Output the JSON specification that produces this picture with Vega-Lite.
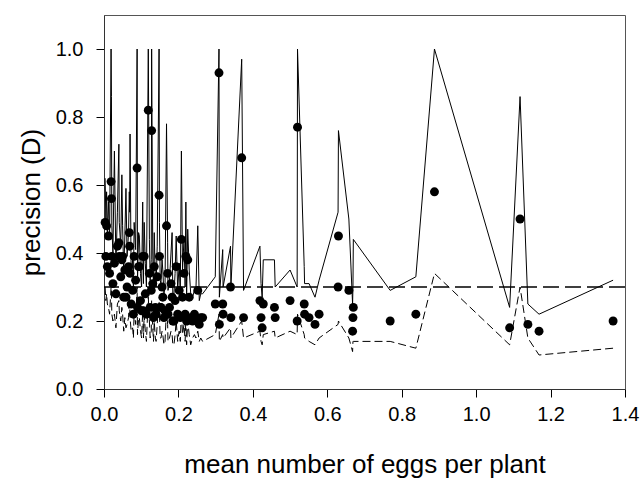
{
  "$schema": "https://vega.github.io/schema/vega-lite/v6.json",
  "width": 521,
  "height": 374,
  "autosize": "none",
  "padding": {"left": 104, "top": 15, "right": 17, "bottom": 89},
  "background": "white",
  "config": {
    "font": "Liberation Sans",
    "view": {"stroke": "#555", "strokeWidth": 1},
    "axis": {
      "grid": false,
      "domainColor": "#333",
      "tickColor": "black",
      "labelColor": "black",
      "titleColor": "black",
      "labelFont": "Liberation Sans",
      "titleFont": "Liberation Sans",
      "labelFontSize": 20,
      "titleFontSize": 26,
      "titleFontWeight": "normal"
    }
  },
  "data": {
    "values": [
      {"x": 0.003, "d": 0.49, "hi": 0.62, "lo": 0.30},
      {"x": 0.005, "d": 0.39, "hi": 0.50, "lo": 0.26},
      {"x": 0.007, "d": 0.48, "hi": 0.58, "lo": 0.28},
      {"x": 0.009, "d": 0.36, "hi": 0.46, "lo": 0.25},
      {"x": 0.012, "d": 0.45, "hi": 0.55, "lo": 0.24},
      {"x": 0.015, "d": 0.34, "hi": 0.44, "lo": 0.22},
      {"x": 0.019, "d": 0.61, "hi": 1.00, "lo": 0.30},
      {"x": 0.020, "d": 0.56, "hi": 0.86, "lo": 0.29},
      {"x": 0.021, "d": 0.39, "hi": 0.48, "lo": 0.22},
      {"x": 0.024, "d": 0.31, "hi": 0.40, "lo": 0.20},
      {"x": 0.028, "d": 0.37, "hi": 0.70, "lo": 0.22},
      {"x": 0.032, "d": 0.28, "hi": 0.36, "lo": 0.18},
      {"x": 0.036, "d": 0.42, "hi": 0.52, "lo": 0.25},
      {"x": 0.040, "d": 0.43, "hi": 0.72, "lo": 0.26},
      {"x": 0.041, "d": 0.39, "hi": 0.49, "lo": 0.23},
      {"x": 0.045, "d": 0.33, "hi": 0.42, "lo": 0.20},
      {"x": 0.048, "d": 0.38, "hi": 0.63, "lo": 0.24},
      {"x": 0.050, "d": 0.39, "hi": 0.48, "lo": 0.22},
      {"x": 0.053, "d": 0.27, "hi": 0.34, "lo": 0.17},
      {"x": 0.056, "d": 0.35, "hi": 0.45, "lo": 0.21},
      {"x": 0.059, "d": 0.27, "hi": 0.59, "lo": 0.18},
      {"x": 0.062, "d": 0.30, "hi": 0.39, "lo": 0.19},
      {"x": 0.066, "d": 0.36, "hi": 0.46, "lo": 0.21},
      {"x": 0.068, "d": 0.46, "hi": 0.58, "lo": 0.27},
      {"x": 0.069, "d": 0.42, "hi": 0.52, "lo": 0.25},
      {"x": 0.070, "d": 0.34, "hi": 0.75, "lo": 0.21},
      {"x": 0.073, "d": 0.25, "hi": 0.33, "lo": 0.17},
      {"x": 0.077, "d": 0.29, "hi": 0.38, "lo": 0.18},
      {"x": 0.079, "d": 0.22, "hi": 0.30, "lo": 0.15},
      {"x": 0.081, "d": 0.39, "hi": 0.49, "lo": 0.23},
      {"x": 0.085, "d": 0.32, "hi": 0.41, "lo": 0.19},
      {"x": 0.089, "d": 0.65, "hi": 1.00, "lo": 0.30},
      {"x": 0.090, "d": 0.24, "hi": 0.31, "lo": 0.16},
      {"x": 0.093, "d": 0.36, "hi": 0.46, "lo": 0.21},
      {"x": 0.095, "d": 0.36, "hi": 0.45, "lo": 0.21},
      {"x": 0.098, "d": 0.26, "hi": 0.34, "lo": 0.17},
      {"x": 0.101, "d": 0.23, "hi": 0.30, "lo": 0.15},
      {"x": 0.104, "d": 0.39, "hi": 0.55, "lo": 0.23},
      {"x": 0.106, "d": 0.23, "hi": 0.31, "lo": 0.15},
      {"x": 0.108, "d": 0.39, "hi": 0.49, "lo": 0.22},
      {"x": 0.111, "d": 0.28, "hi": 0.37, "lo": 0.17},
      {"x": 0.114, "d": 0.22, "hi": 0.30, "lo": 0.14},
      {"x": 0.119, "d": 0.82, "hi": 1.00, "lo": 0.27},
      {"x": 0.122, "d": 0.34, "hi": 0.44, "lo": 0.20},
      {"x": 0.124, "d": 0.24, "hi": 0.32, "lo": 0.15},
      {"x": 0.127, "d": 0.29, "hi": 0.38, "lo": 0.17},
      {"x": 0.128, "d": 0.76, "hi": 1.00, "lo": 0.26},
      {"x": 0.131, "d": 0.31, "hi": 0.40, "lo": 0.18},
      {"x": 0.133, "d": 0.21, "hi": 0.29, "lo": 0.14},
      {"x": 0.135, "d": 0.36, "hi": 0.46, "lo": 0.20},
      {"x": 0.138, "d": 0.24, "hi": 0.32, "lo": 0.15},
      {"x": 0.140, "d": 0.22, "hi": 0.30, "lo": 0.14},
      {"x": 0.143, "d": 0.33, "hi": 0.42, "lo": 0.19},
      {"x": 0.148, "d": 0.57, "hi": 1.00, "lo": 0.26},
      {"x": 0.149, "d": 0.39, "hi": 0.49, "lo": 0.22},
      {"x": 0.151, "d": 0.24, "hi": 0.32, "lo": 0.15},
      {"x": 0.153, "d": 0.24, "hi": 0.31, "lo": 0.15},
      {"x": 0.156, "d": 0.30, "hi": 0.38, "lo": 0.17},
      {"x": 0.158, "d": 0.27, "hi": 0.35, "lo": 0.16},
      {"x": 0.161, "d": 0.21, "hi": 0.28, "lo": 0.13},
      {"x": 0.164, "d": 0.23, "hi": 0.30, "lo": 0.14},
      {"x": 0.168, "d": 0.48, "hi": 0.78, "lo": 0.24},
      {"x": 0.171, "d": 0.34, "hi": 0.43, "lo": 0.19},
      {"x": 0.172, "d": 0.22, "hi": 0.29, "lo": 0.14},
      {"x": 0.176, "d": 0.24, "hi": 0.32, "lo": 0.15},
      {"x": 0.180, "d": 0.31, "hi": 0.40, "lo": 0.17},
      {"x": 0.183, "d": 0.27, "hi": 0.46, "lo": 0.16},
      {"x": 0.185, "d": 0.20, "hi": 0.27, "lo": 0.13},
      {"x": 0.188, "d": 0.20, "hi": 0.28, "lo": 0.13},
      {"x": 0.191, "d": 0.26, "hi": 0.34, "lo": 0.16},
      {"x": 0.194, "d": 0.36, "hi": 0.45, "lo": 0.20},
      {"x": 0.198, "d": 0.22, "hi": 0.29, "lo": 0.14},
      {"x": 0.202, "d": 0.29, "hi": 0.37, "lo": 0.17},
      {"x": 0.205, "d": 0.21, "hi": 0.28, "lo": 0.14},
      {"x": 0.208, "d": 0.44, "hi": 0.70, "lo": 0.23},
      {"x": 0.211, "d": 0.27, "hi": 0.35, "lo": 0.16},
      {"x": 0.215, "d": 0.34, "hi": 0.44, "lo": 0.19},
      {"x": 0.218, "d": 0.22, "hi": 0.30, "lo": 0.14},
      {"x": 0.220, "d": 0.39, "hi": 0.55, "lo": 0.21},
      {"x": 0.222, "d": 0.20, "hi": 0.27, "lo": 0.13},
      {"x": 0.225, "d": 0.38, "hi": 0.47, "lo": 0.20},
      {"x": 0.229, "d": 0.27, "hi": 0.35, "lo": 0.16},
      {"x": 0.233, "d": 0.21, "hi": 0.28, "lo": 0.13},
      {"x": 0.238, "d": 0.20, "hi": 0.27, "lo": 0.15},
      {"x": 0.243, "d": 0.22, "hi": 0.29, "lo": 0.16},
      {"x": 0.247, "d": 0.21, "hi": 0.29, "lo": 0.15},
      {"x": 0.252, "d": 0.29, "hi": 0.48, "lo": 0.17},
      {"x": 0.256, "d": 0.19, "hi": 0.26, "lo": 0.14},
      {"x": 0.260, "d": 0.21, "hi": 0.28, "lo": 0.15},
      {"x": 0.265, "d": 0.21, "hi": 0.28, "lo": 0.14},
      {"x": 0.299, "d": 0.25, "hi": 0.33, "lo": 0.16},
      {"x": 0.309, "d": 0.93, "hi": 1.00, "lo": 0.22},
      {"x": 0.310, "d": 0.19, "hi": 0.27, "lo": 0.14},
      {"x": 0.319, "d": 0.25, "hi": 0.41, "lo": 0.16},
      {"x": 0.320, "d": 0.22, "hi": 0.30, "lo": 0.15},
      {"x": 0.340, "d": 0.30, "hi": 0.42, "lo": 0.18},
      {"x": 0.341, "d": 0.21, "hi": 0.30, "lo": 0.15},
      {"x": 0.370, "d": 0.68, "hi": 0.97, "lo": 0.20},
      {"x": 0.375, "d": 0.21, "hi": 0.29, "lo": 0.15},
      {"x": 0.419, "d": 0.26, "hi": 0.42, "lo": 0.17},
      {"x": 0.422, "d": 0.21, "hi": 0.31, "lo": 0.14},
      {"x": 0.425, "d": 0.18, "hi": 0.27, "lo": 0.13},
      {"x": 0.428, "d": 0.25, "hi": 0.38, "lo": 0.16},
      {"x": 0.458, "d": 0.24, "hi": 0.38, "lo": 0.17},
      {"x": 0.460, "d": 0.21, "hi": 0.30, "lo": 0.15},
      {"x": 0.500, "d": 0.26, "hi": 0.35, "lo": 0.17},
      {"x": 0.519, "d": 0.20, "hi": 0.30, "lo": 0.16},
      {"x": 0.520, "d": 0.77, "hi": 1.00, "lo": 0.22},
      {"x": 0.538, "d": 0.25, "hi": 0.36, "lo": 0.16},
      {"x": 0.539, "d": 0.22, "hi": 0.31, "lo": 0.15},
      {"x": 0.551, "d": 0.21, "hi": 0.31, "lo": 0.14},
      {"x": 0.567, "d": 0.19, "hi": 0.27, "lo": 0.13},
      {"x": 0.578, "d": 0.22, "hi": 0.32, "lo": 0.15},
      {"x": 0.629, "d": 0.30, "hi": 0.52, "lo": 0.19},
      {"x": 0.630, "d": 0.45, "hi": 0.76, "lo": 0.20},
      {"x": 0.658, "d": 0.29, "hi": 0.50, "lo": 0.15},
      {"x": 0.668, "d": 0.17, "hi": 0.25, "lo": 0.11},
      {"x": 0.669, "d": 0.21, "hi": 0.30, "lo": 0.14},
      {"x": 0.670, "d": 0.24, "hi": 0.44, "lo": 0.14},
      {"x": 0.769, "d": 0.20, "hi": 0.29, "lo": 0.14},
      {"x": 0.838, "d": 0.22, "hi": 0.33, "lo": 0.12},
      {"x": 0.888, "d": 0.58, "hi": 1.00, "lo": 0.34},
      {"x": 1.090, "d": 0.18, "hi": 0.24, "lo": 0.13},
      {"x": 1.118, "d": 0.50, "hi": 0.86, "lo": 0.30},
      {"x": 1.139, "d": 0.19, "hi": 0.25, "lo": 0.15},
      {"x": 1.169, "d": 0.17, "hi": 0.22, "lo": 0.10},
      {"x": 1.368, "d": 0.20, "hi": 0.32, "lo": 0.12}
    ]
  },
  "layer": [
    {
      "mark": {"type": "line", "color": "black", "strokeWidth": 1},
      "encoding": {
        "x": {
          "field": "x", "type": "quantitative",
          "scale": {"domain": [0, 1.4], "nice": false, "zero": false},
          "axis": {
            "title": "mean number of eggs per plant",
            "values": [0, 0.1, 0.2, 0.3, 0.4, 0.5, 0.6, 0.7, 0.8, 0.9, 1.0, 1.1, 1.2, 1.3, 1.4],
            "labelExpr": "round(datum.value*10) % 2 == 1 ? '' : format(datum.value, '.1f')",
            "tickSize": {"condition": {"test": "round(datum.value*10) % 2 == 1", "value": 4}, "value": 8},
            "labelPadding": 7,
            "titlePadding": 27,
            "labelFlush": false
          }
        },
        "y": {
          "field": "hi", "type": "quantitative",
          "scale": {"domain": [0, 1.1], "nice": false, "zero": false},
          "axis": {
            "title": "precision (D)",
            "values": [0, 0.1, 0.2, 0.3, 0.4, 0.5, 0.6, 0.7, 0.8, 0.9, 1.0],
            "labelExpr": "round(datum.value*10) % 2 == 1 ? '' : format(datum.value, '.1f')",
            "tickSize": {"condition": {"test": "round(datum.value*10) % 2 == 1", "value": 4}, "value": 8},
            "labelPadding": 13,
            "titlePadding": 11,
            "labelFlush": false
          }
        }
      }
    },
    {
      "mark": {"type": "line", "color": "black", "strokeWidth": 1, "strokeDash": [8, 4]},
      "encoding": {
        "x": {"field": "x", "type": "quantitative"},
        "y": {"field": "lo", "type": "quantitative"}
      }
    },
    {
      "data": {"values": [{"threshold": 0.3}]},
      "mark": {"type": "rule", "color": "black", "strokeWidth": 1.6, "strokeDash": [16, 6]},
      "encoding": {
        "y": {"field": "threshold", "type": "quantitative"}
      }
    },
    {
      "mark": {"type": "circle", "color": "black", "opacity": 1, "size": 80},
      "encoding": {
        "x": {"field": "x", "type": "quantitative"},
        "y": {"field": "d", "type": "quantitative"}
      }
    }
  ]
}
